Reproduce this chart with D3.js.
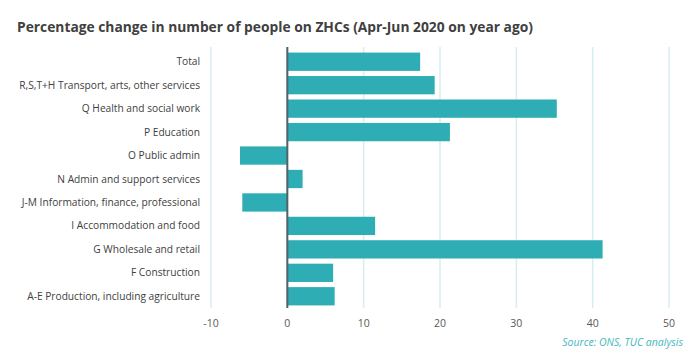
<!DOCTYPE html>
<html>
<head>
<meta charset="utf-8">
<script src="https://cdn.jsdelivr.net/npm/d3@7"></script>
<style>
  body { margin: 0; background: #fff; }
  text { font-family: "Open Sans", "Noto Sans", sans-serif; }
</style>
</head>
<body>
<script>
const categories = [
  'Total',
  'R,S,T+H Transport, arts, other services',
  'Q Health and social work',
  'P Education',
  'O Public admin',
  'N Admin and support services',
  'J-M Information, finance, professional',
  'I Accommodation and food',
  'G Wholesale and retail',
  'F Construction',
  'A-E Production, including agriculture',
];
const values = [17.4, 19.3, 35.3, 21.3, -6.2, 2.0, -5.9, 11.5, 41.3, 6.0, 6.2];
const ticks = [-10, 0, 10, 20, 30, 40, 50];

const width = 696;
const height = 363;
const plot = { left: 211, right: 669, top: 50, bottom: 308 };

const svg = d3.select('body').append('svg')
  .attr('width', width)
  .attr('height', height);

svg.append('text')
  .attr('x', 17)
  .attr('y', 32)
  .style('font-size', '13.8px')
  .style('font-weight', 'bold')
  .style('fill', '#404040')
  .text('Percentage change in number of people on ZHCs (Apr-Jun 2020 on year ago)');

const x = d3.scaleLinear()
  .domain([-10, 50])
  .range([plot.left, plot.right]);

const y = d3.scaleBand()
  .domain(categories)
  .range([plot.top, plot.bottom])
  .paddingInner(0.22)
  .paddingOuter(0.11);

// gridlines
svg.append('g')
  .selectAll('line')
  .data(ticks)
  .enter().append('line')
  .attr('x1', d => x(d))
  .attr('x2', d => x(d))
  .attr('y1', plot.top - 3)
  .attr('y2', plot.bottom)
  .style('stroke', '#d4eef1')
  .style('stroke-width', 1.5);

// bars
svg.append('g')
  .selectAll('rect')
  .data(values)
  .enter().append('rect')
  .attr('x', d => x(Math.min(0, d)))
  .attr('width', d => Math.abs(x(d) - x(0)))
  .attr('y', (d, i) => y(categories[i]))
  .attr('height', y.bandwidth())
  .style('fill', '#2eadb4');

// zero line
svg.append('line')
  .attr('x1', x(0))
  .attr('x2', x(0))
  .attr('y1', plot.top - 3)
  .attr('y2', plot.bottom)
  .style('stroke', '#4f6266')
  .style('stroke-width', 2);

// category labels
svg.append('g')
  .selectAll('text')
  .data(categories)
  .enter().append('text')
  .attr('x', 200)
  .attr('y', d => y(d) + y.bandwidth() / 2)
  .attr('dy', '0.35em')
  .attr('text-anchor', 'end')
  .style('font-size', '10.2px')
  .style('fill', '#404040')
  .text(d => d);

// tick labels
svg.append('g')
  .selectAll('text')
  .data(ticks)
  .enter().append('text')
  .attr('x', d => x(d))
  .attr('y', 327)
  .attr('text-anchor', 'middle')
  .style('font-size', '10.5px')
  .style('fill', '#595959')
  .text(d => d);

svg.append('text')
  .attr('x', 683)
  .attr('y', 346)
  .attr('text-anchor', 'end')
  .style('font-size', '10.5px')
  .style('font-style', 'italic')
  .style('fill', '#3fb8bd')
  .text('Source:  ONS, TUC analysis');
</script>
</body>
</html>
